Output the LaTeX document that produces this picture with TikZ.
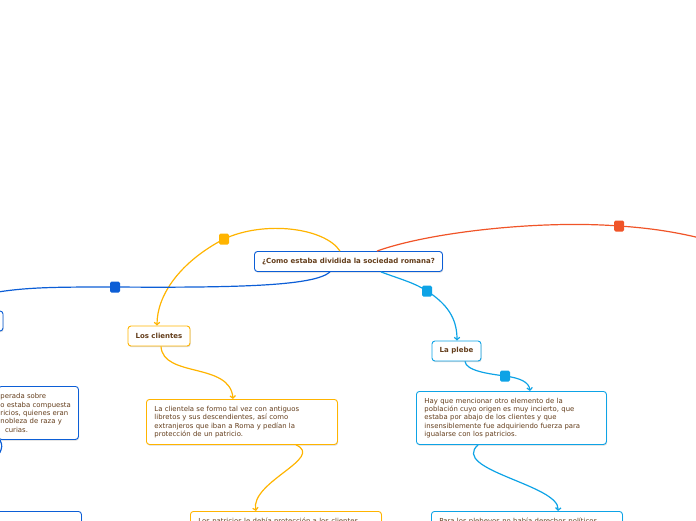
\documentclass[tikz,border=0pt]{standalone}
\usepackage{fontspec}
\setmainfont{DejaVu Sans}
\usetikzlibrary{arrows.meta, calc, shadows}

\definecolor{azulosc}{RGB}{12,94,214}
\definecolor{celeste}{RGB}{14,163,230}
\definecolor{amarillo}{RGB}{255,180,0}
\definecolor{naranja}{RGB}{240,84,40}
\definecolor{marron}{RGB}{100,62,28}

\tikzset{
  caja/.style={draw=#1, line width=0.9pt, rounded corners=3pt, fill=white,
    drop shadow={shadow xshift=0.6pt, shadow yshift=-1.2pt, opacity=0.25, fill=black!60},
    text=marron, inner sep=0pt, font=\fontsize{6.9}{8.4}\selectfont},
  titulo/.style={caja=#1, font=\fontsize{7}{8}\selectfont\bfseries, minimum height=20pt},
  texto/.style={caja=#1, align=left, anchor=north west, inner xsep=8pt},
  marca/.style={fill=#1, draw=none, rounded corners=1.5pt, minimum width=10pt, minimum height=11pt, inner sep=0pt},
  rama/.style={draw=#1, line width=1.2pt},
  flecha/.style={rama=#1, -{Straight Barb[length=2.5pt,width=5.5pt]}},
}

\begin{document}
\begin{tikzpicture}[x=1pt, y=-1pt]
        \useasboundingbox (0,0) rectangle (696,520);

        % tema central y temas principales
        \node[titulo=azulosc, minimum width=188pt] (raiz) at (348.5,261.5) {¿Como estaba dividida la sociedad romana?};
        \node[titulo=amarillo, minimum width=62pt] (clientes) at (159,336) {Los clientes};
        \node[titulo=celeste, minimum width=49pt] (plebe) at (456.5,351) {La plebe};
        \node[titulo=azulosc, minimum width=60pt] (patricios) at (-27,321) {};

        % textos de cada rama
        \node[texto=amarillo, text width=175pt, minimum height=45pt] (clientela) at (146,399)
            {La clientela se formo tal vez con antiguos\\libretos y sus descendientes, así como\\extranjeros que iban a Roma y pedían la\\protección de un patricio.};
        \node[texto=celeste, text width=174pt, minimum height=53pt] (elemento) at (416,391)
            {Hay que mencionar otro elemento de la\\población cuyo origen es muy incierto, que\\estaba por abajo de los clientes y que\\insensiblemente fue adquiriendo fuerza para\\igualarse con los patricios.};
        \node[texto=amarillo, text width=175pt, inner ysep=7pt] (proteccion) at (190,511)
            {Los patricios le debía protección a los clientes};
        \node[texto=celeste, text width=175pt, inner ysep=7pt] (derechos) at (431,511)
            {Para los plebeyos no había derechos políticos};
        \node[texto=azulosc, text width=76pt, inner xsep=2pt, minimum height=53pt] (gens) at (-2,386)
            {perada sobre\\o estaba compuesta\\ricios, quienes eran\\nobleza de raza y\\\ \ curias.};
        \node[texto=azulosc, minimum width=141pt, minimum height=20pt] (inferior) at (-60,511) {};

        % puntos de las marcas y extremos libres
        \coordinate (pAmarillo) at (224,239);
        \coordinate (pNaranja) at (619,226);
        \coordinate (pAzul) at (115,287);
        \coordinate (pCeleste) at (427,291);
        \coordinate (pPlebe) at (505,376);
        \coordinate (finNaranja) at (700,238);
        \coordinate (finAzul) at (-2,292);
        \coordinate (finArco) at (-8,462);

        % ramas que salen del tema central
        \draw[rama=naranja] ([xshift=28.5pt]raiz.north) .. controls (430,232) and (540,220) .. (pNaranja)
            .. controls (650,228) and (675,232) .. (finNaranja);
        \draw[flecha=amarillo] ([xshift=-8.5pt]raiz.north) .. controls (325,228) and (265,220) .. (pAmarillo)
            .. controls (180,262) and (157,295) .. ([xshift=-2pt]clientes.north);
        \draw[rama=azulosc] ([xshift=-18.5pt]raiz.south) .. controls (315,285) and (250,288) .. (pAzul)
            .. controls (60,287) and (30,287) .. (finAzul);
        \draw[flecha=celeste] ([xshift=32.5pt]raiz.south) .. controls (400,279) and (415,283) .. (pCeleste)
            .. controls (447,304) and (457,318) .. ([xshift=0.5pt]plebe.north);

        % ramas secundarias
        \draw[flecha=amarillo] ([xshift=2pt]clientes.south) .. controls (163,378) and (230,362) .. ([xshift=87pt]clientela.north west);
        \draw[flecha=amarillo] ([xshift=150pt]clientela.south west) .. controls (325,458) and (250,482) .. ([xshift=66pt]proteccion.north west);
        \draw[flecha=celeste] ([xshift=8.5pt]plebe.south) .. controls (466,371) and (490,374) .. (pPlebe)
            .. controls (520,378) and (529,382) .. ([xshift=114pt]elemento.north west);
        \draw[flecha=celeste] ([xshift=62pt]elemento.south west) .. controls (450,470) and (560,485) .. ([xshift=127pt]derechos.north west);
        \draw[rama=azulosc] ([xshift=2pt]gens.south west) .. controls (3,445) and (3,452) .. (finArco);

        % marcas cuadradas
        \node[marca=naranja] (mNaranja) at (pNaranja) {};
        \node[marca=amarillo] (mAmarillo) at (pAmarillo) {};
        \node[marca=azulosc] (mAzul) at (pAzul) {};
        \node[marca=celeste] (mCeleste) at (pCeleste) {};
        \node[marca=celeste] (mPlebe) at (pPlebe) {};
\end{tikzpicture}
\end{document}
